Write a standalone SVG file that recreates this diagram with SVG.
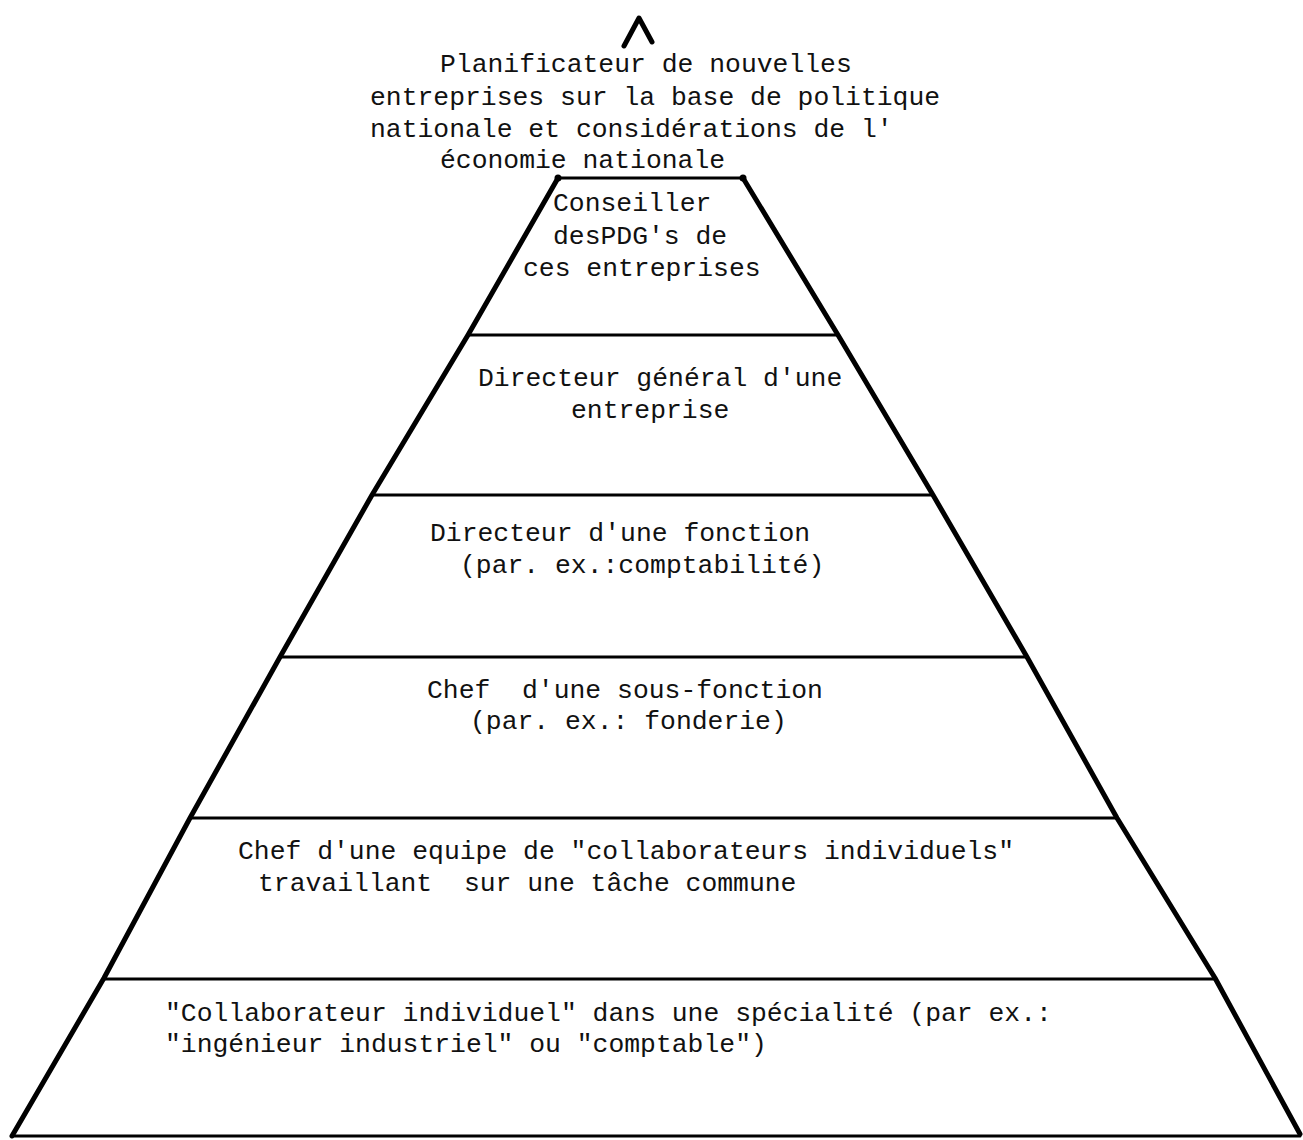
<svg xmlns="http://www.w3.org/2000/svg" width="1303" height="1140" viewBox="0 0 1303 1140">
<style>
  .t { font-family: "Liberation Mono", "DejaVu Sans Mono", monospace; font-size: 26.4px; fill: #111; }
  .side { fill: none; stroke: #000; stroke-width: 5; stroke-linejoin: round; stroke-linecap: round; }
  .tier { fill: none; stroke: #000; stroke-width: 3; stroke-linecap: round; }
</style>
<rect width="1303" height="1140" fill="#fff"/>
<g id="outline">
  <polyline class="side" points="558,178 468,335 372,495 280,657 190,818 104,978 12,1136"/>
  <polyline class="side" points="743,178 838,335 933,495 1027,657 1117,818 1215,978 1300,1134"/>
  <line class="tier" x1="558" y1="178" x2="743" y2="178"/>
  <circle cx="558" cy="178" r="3.5" fill="#000"/>
  <circle cx="743" cy="178" r="3.5" fill="#000"/>
  <line class="tier" x1="468" y1="335" x2="838" y2="335"/>
  <line class="tier" x1="372" y1="495" x2="933" y2="495"/>
  <line class="tier" x1="280" y1="657" x2="1027" y2="657"/>
  <line class="tier" x1="190" y1="818" x2="1117" y2="818"/>
  <line class="tier" x1="104" y1="979" x2="1215" y2="979"/>
  <line class="tier" x1="12" y1="1136" x2="1300" y2="1136"/>
</g>
<g id="apex">
  <polyline class="side" points="624,46 639,18 652,42"/>
  <text class="t" x="440" y="72">Planificateur de nouvelles</text>
  <text class="t" x="370" y="105">entreprises sur la base de politique</text>
  <text class="t" x="370" y="137">nationale et considérations de l'</text>
  <text class="t" x="440" y="168">économie nationale</text>
</g>
<g id="tier1">
  <text class="t" x="553" y="211">Conseiller</text>
  <text class="t" x="553" y="244">desPDG's de</text>
  <text class="t" x="523" y="276">ces entreprises</text>
</g>
<g id="tier2">
  <text class="t" x="478" y="386">Directeur général d'une</text>
  <text class="t" x="571" y="418">entreprise</text>
</g>
<g id="tier3">
  <text class="t" x="430" y="541">Directeur d'une fonction</text>
  <text class="t" x="460" y="573">(par. ex.:comptabilité)</text>
</g>
<g id="tier4">
  <text class="t" x="427" y="698" xml:space="preserve">Chef  d'une sous-fonction</text>
  <text class="t" x="470" y="729">(par. ex.: fonderie)</text>
</g>
<g id="tier5">
  <text class="t" x="238" y="859">Chef d'une equipe de "collaborateurs individuels"</text>
  <text class="t" x="258" y="891" xml:space="preserve">travaillant  sur une tâche commune</text>
</g>
<g id="tier6">
  <text class="t" x="165" y="1021">"Collaborateur individuel" dans une spécialité (par ex.:</text>
  <text class="t" x="165" y="1052">"ingénieur industriel" ou "comptable")</text>
</g>
</svg>
